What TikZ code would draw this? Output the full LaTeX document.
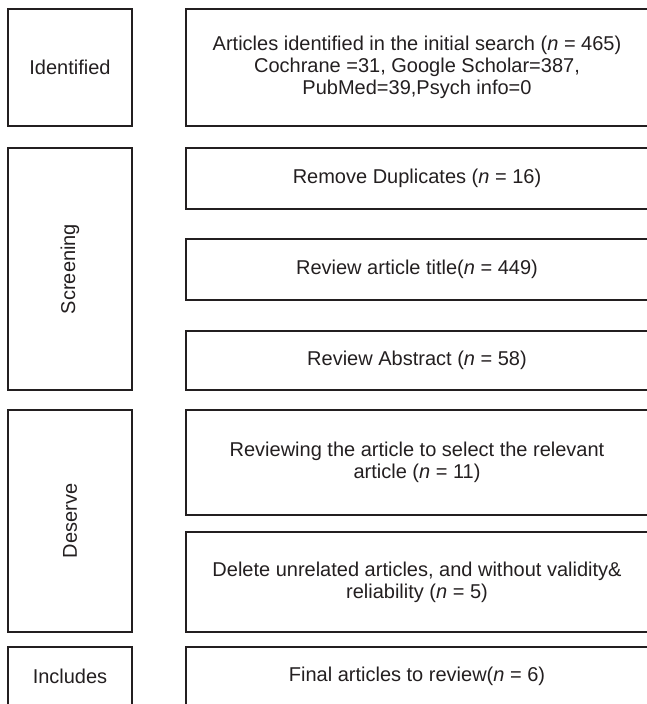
\documentclass[tikz,border=0pt]{standalone}
\usepackage{fontspec}
\setmainfont{Liberation Sans}
\definecolor{ink}{HTML}{231F20}
\begin{document}
\begin{tikzpicture}[x=1pt,y=-1pt,
  box/.style={draw=ink, text=ink, line width=1.8pt, inner sep=0pt, align=center,
    font=\fontsize{20}{22}\selectfont},
  leftbox/.style={box, minimum width=124pt},
  rightbox/.style={box, minimum width=462pt}]
\useasboundingbox (0,0) rectangle (647,704);
\clip (0,0) rectangle (647,704);
% left column
\node[leftbox, minimum height=117pt] (idl) at (70,67.5) {Identified};
\node[leftbox, minimum height=242pt] (scr) at (70,269) {\rotatebox{90}{Screening}};
\node[leftbox, minimum height=222pt] (des) at (70,521) {\rotatebox{90}{Deserve}};
\node[leftbox, minimum height=58.5pt] (inc) at (70,676.25) {Includes};
% right column
\node[rightbox, minimum height=117pt] (r1) at (417,67.5)
  {Articles identified in the initial search (\textit{n} = 465)\\Cochrane =31, Google Scholar=387,\\PubMed=39,Psych info=0};
\node[rightbox, minimum height=61pt] (r2) at (417,178.5) {Remove Duplicates (\textit{n} = 16)};
\node[rightbox, minimum height=61pt] (r3) at (417,269.5) {Review article title(\textit{n} = 449)};
\node[rightbox, minimum height=59pt] (r4) at (417,360.5) {Review Abstract (\textit{n} = 58)};
\node[rightbox, minimum height=105pt] (r5) at (417,462.5)
  {Reviewing the article to select the relevant\\article (\textit{n} = 11)};
\node[rightbox, minimum height=100pt] (r6) at (417,582)
  {Delete unrelated articles, and without validity\&\\reliability (\textit{n} = 5)};
\node[rightbox, minimum height=58.5pt] (r7) at (417,676.25) {Final articles to review(\textit{n} = 6)};
\end{tikzpicture}
\end{document}
